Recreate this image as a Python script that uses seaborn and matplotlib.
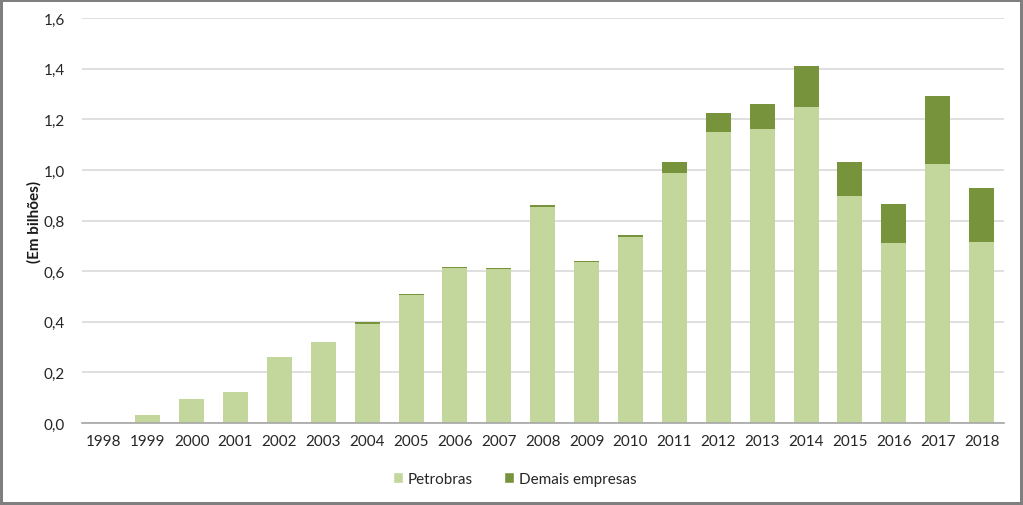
import matplotlib
matplotlib.use("Agg")
import matplotlib.pyplot as plt
import seaborn as sns
import pandas as pd
from matplotlib.patches import Patch

years = [str(y) for y in range(1998, 2019)]
petrobras = [0.0, 0.032, 0.095, 0.123, 0.26, 0.32, 0.391, 0.507, 0.612, 0.609, 0.855,
             0.635, 0.737, 0.99, 1.15, 1.162, 1.248, 0.898, 0.711, 1.024, 0.714]
demais = [0.0, 0.0, 0.0, 0.0, 0.0, 0.0, 0.009, 0.003, 0.003, 0.005, 0.005,
          0.004, 0.007, 0.04, 0.075, 0.098, 0.164, 0.135, 0.155, 0.27, 0.214]
yticks = [0.0, 0.2, 0.4, 0.6, 0.8, 1.0, 1.2, 1.4, 1.6]
ytick_labels = ["0,0", "0,2", "0,4", "0,6", "0,8", "1,0", "1,2", "1,4", "1,6"]

c_light = "#C3D69B"
c_dark = "#77933C"

df = pd.DataFrame({"ano": years, "Petrobras": petrobras, "Demais": demais})
df["total"] = df["Petrobras"] + df["Demais"]

sns.set_style("white")
plt.rcParams["font.family"] = ["Lato", "DejaVu Sans"]

fig = plt.figure(figsize=(10.23, 5.06), dpi=100)
fig.patch.set_edgecolor("#7F7F7F")
fig.patch.set_linewidth(3)
ax = fig.add_axes([0.080, 0.162, 0.901, 0.800])

sns.barplot(data=df, x="ano", y="total", color=c_dark, width=0.57, saturation=1,
            linewidth=0, edgecolor="none", ax=ax, zorder=3)
sns.barplot(data=df, x="ano", y="Petrobras", color=c_light, width=0.57, saturation=1,
            linewidth=0, edgecolor="none", ax=ax, zorder=4)

ax.set_xlim(-0.5, 20.5)
ax.set_ylim(0, 1.6)
ax.set_yticks(yticks)
ax.set_yticklabels(ytick_labels)
ax.yaxis.grid(True, color="#D9D9D9", linewidth=1.2, zorder=0)
ax.set_axisbelow(True)
for s in ["top", "right", "left"]:
    ax.spines[s].set_visible(False)
ax.spines["bottom"].set_color("#A6A6A6")
ax.spines["bottom"].set_linewidth(1.2)
ax.spines["bottom"].set_zorder(5)
ax.tick_params(axis="both", length=0, labelsize=11, colors="#262626", pad=8)
ax.tick_params(axis="y", pad=12)
ax.set_xlabel("")
ax.set_ylabel("(Em bilhões)", fontsize=11, fontweight="bold", color="#1A1A1A", labelpad=2)

handles = [Patch(facecolor=c_light, label="Petrobras"),
           Patch(facecolor=c_dark, label="Demais empresas")]
fig.legend(handles=handles, loc="center", bbox_to_anchor=(0.503, 0.052), ncol=2,
           frameon=False, fontsize=11, handlelength=0.7, handleheight=0.7,
           handletextpad=0.3, columnspacing=2.0)

fig.savefig("out.png", dpi=100, edgecolor=fig.get_edgecolor())
